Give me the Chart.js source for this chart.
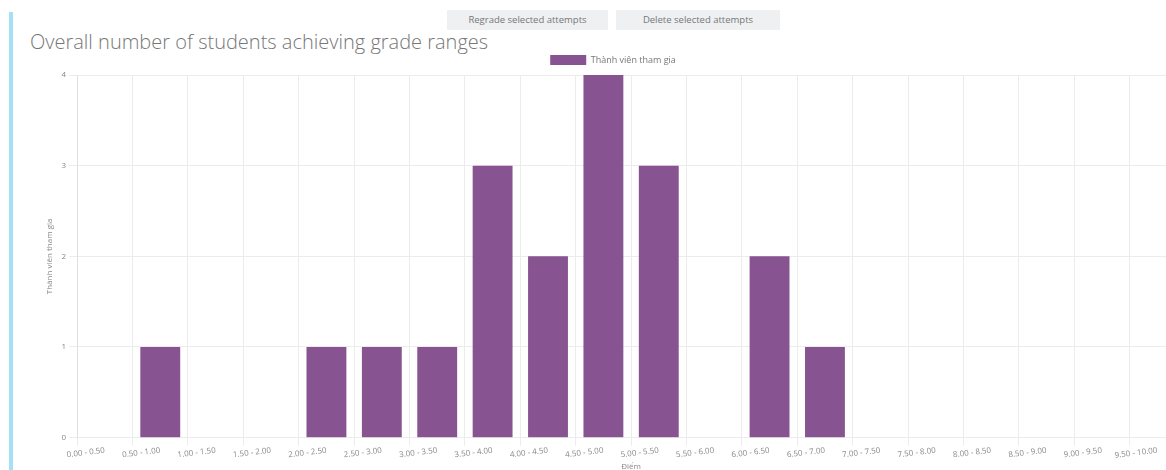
<!DOCTYPE html>
<html>
<head>
<meta charset="utf-8">
<script src="https://cdn.jsdelivr.net/npm/chart.js@4.4.0/dist/chart.umd.min.js"></script>
<style>
    html, body { margin: 0; padding: 0; background: #fff; }
    body { width: 1166px; height: 470px; overflow: hidden; position: relative; font-family: "Open Sans", sans-serif; }
    .sidebar { position: absolute; left: 9px; top: 12px; width: 4px; height: 458px; background: #a3e2f4; }
    .btn { position: absolute; top: 10px; height: 20px; line-height: 20px; background: #eef0f2; color: #777; font-size: 9.5px; text-align: center; }
    h2 { position: absolute; left: 30px; top: 28px; margin: 0; font-size: 20px; font-weight: 300; color: #777; white-space: nowrap; }
    .chart-box { position: absolute; left: 41px; top: 54px; width: 1158px; height: 418px; }
</style>
</head>
<body>
<div class="sidebar"></div>
<div class="btn" style="left:447px;width:161px;">Regrade selected attempts</div>
<div class="btn" style="left:616px;width:164px;">Delete selected attempts</div>
<h2>Overall number of students achieving grade ranges</h2>
<div class="chart-box"><canvas id="gradeChart"></canvas></div>
<script>
// Khoảng điểm (nhãn trục X)
const gradeRanges = [
    '0.00 - 0.50', '0.50 - 1.00', '1.00 - 1.50', '1.50 - 2.00', '2.00 - 2.50',
    '2.50 - 3.00', '3.00 - 3.50', '3.50 - 4.00', '4.00 - 4.50', '4.50 - 5.00',
    '5.00 - 5.50', '5.50 - 6.00', '6.00 - 6.50', '6.50 - 7.00', '7.00 - 7.50',
    '7.50 - 8.00', '8.00 - 8.50', '8.50 - 9.00', '9.00 - 9.50', '9.50 - 10.00'
];
// Số người trong mỗi khoảng
const participants = [0, 1, 0, 0, 1, 1, 1, 3, 2, 4, 3, 0, 2, 1, 0, 0, 0, 0, 0, 0];
const seriesLabel = 'Thành viên tham gia';
const xTitle = 'Điểm';
const barColor = 'rgb(135, 84, 145)';

const ctx = document.getElementById('gradeChart');
new Chart(ctx, {
    type: 'bar',
    data: {
        labels: gradeRanges,
        datasets: [{
            label: seriesLabel,
            data: participants,
            backgroundColor: barColor,
            borderWidth: 0
        }]
    },
    options: {
        responsive: true,
        maintainAspectRatio: false,
        animation: false,
        layout: { padding: { right: 14, top: 0, bottom: 0 } },
        plugins: {
            legend: {
                position: 'top',
                labels: { boxWidth: 36, boxHeight: 10, padding: 1, color: '#777', font: { size: 9, family: 'Open Sans' } }
            },
            tooltip: { enabled: false }
        },
        scales: {
            x: {
                grid: { color: '#ececec', offset: true },
                border: { color: '#ececec' },
                ticks: {
                    autoSkip: false, minRotation: 7, maxRotation: 7,
                    color: '#888', font: { size: 8, family: 'Open Sans' }, padding: 0
                },
                title: { display: true, text: xTitle, color: '#888', font: { size: 8, family: 'Open Sans' }, padding: { top: 2, bottom: 0 } }
            },
            y: {
                min: 0, max: 4,
                grid: { color: '#ececec' },
                border: { color: '#e0e0e0' },
                ticks: { stepSize: 1, color: '#888', font: { size: 8, family: 'Open Sans' }, padding: 3 },
                title: { display: true, text: seriesLabel, color: '#888', font: { size: 8, family: 'Open Sans' }, padding: 4 }
            }
        }
    }
});
</script>
</body>
</html>
